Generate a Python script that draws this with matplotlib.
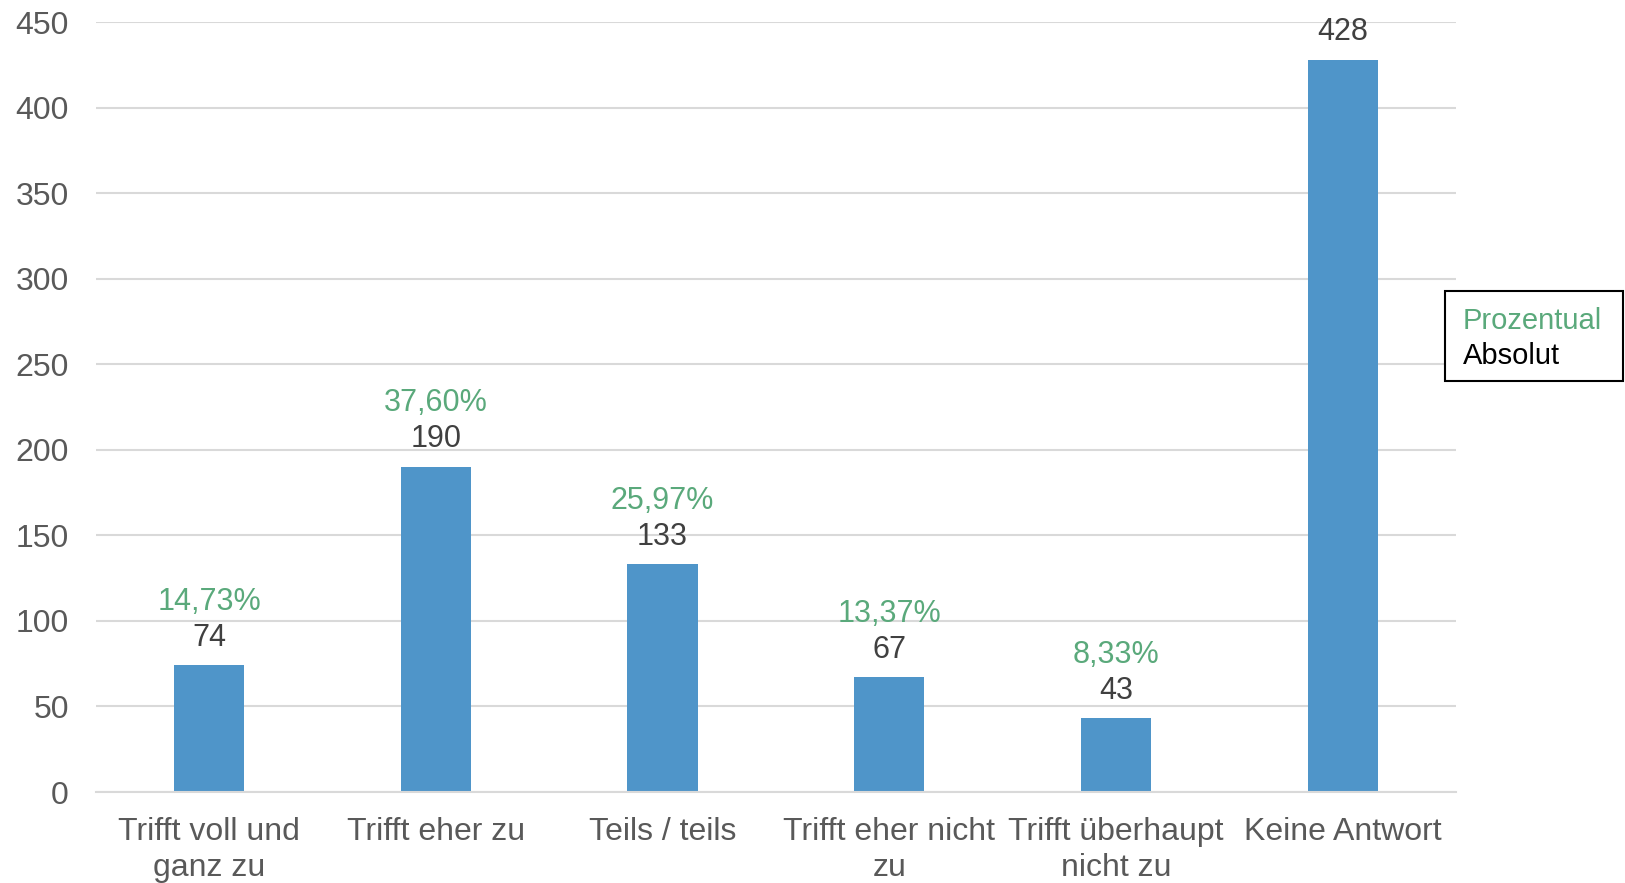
import matplotlib.pyplot as plt
from matplotlib.patches import Rectangle

plt.rcParams['font.family'] = ['Liberation Sans', 'DejaVu Sans']

kategorien = ["Trifft voll und\nganz zu", "Trifft eher zu", "Teils / teils",
              "Trifft eher nicht\nzu", "Trifft überhaupt\nnicht zu", "Keine Antwort"]
absolut = [74, 190, 133, 67, 43, 428]
prozent = ["14,73%", "37,60%", "25,97%", "13,37%", "8,33%", ""]

blau = "#4F95C9"
gruen = "#5AA97B"
fs = 23

fig = plt.figure(figsize=(16.25, 8.83), dpi=100)
ax = fig.add_axes([0.059, 0.103, 0.837, 0.872])

x = range(len(kategorien))
bars = ax.bar(x, absolut, width=0.31, color=blau, zorder=2)

for b, n, p in zip(bars, absolut, prozent):
    cx = b.get_x() + b.get_width() / 2
    ax.annotate(str(n), (cx, n), xytext=(0, 20), textcoords="offset points",
                ha="center", va="center", fontsize=22, color="#404040")
    if p:
        ax.annotate(p, (cx, n), xytext=(0, 46), textcoords="offset points",
                    ha="center", va="center", fontsize=22, color=gruen)

ax.set_xlim(-0.5, len(kategorien) - 0.5)
ax.set_ylim(0, 450)
ax.set_yticks(range(0, 451, 50))
ax.set_xticks(list(x))
ax.set_xticklabels(kategorien, linespacing=1.25)
ax.tick_params(axis="y", length=0, pad=19.5, labelsize=fs, labelcolor="#595959")
ax.tick_params(axis="x", length=0, pad=18, labelsize=fs, labelcolor="#595959")
ax.yaxis.grid(True, color="#D9D9D9", linewidth=1.5, zorder=0)
for s in ["top", "right", "left"]:
    ax.spines[s].set_visible(False)
ax.spines["bottom"].set_color("#D9D9D9")
ax.spines["bottom"].set_linewidth(1.5)

# Legendenkasten rechts: nur Text, keine Symbole
fig.patches.append(Rectangle((0.8892, 0.5685), 0.1095, 0.1019,
                             transform=fig.transFigure, facecolor="white",
                             edgecolor="black", linewidth=1.5))
fig.text(0.9003, 0.6364, "Prozentual", color=gruen, fontsize=21, va="center")
fig.text(0.9003, 0.5967, "Absolut", color="black", fontsize=21, va="center")

fig.savefig("out.png", dpi=100)
